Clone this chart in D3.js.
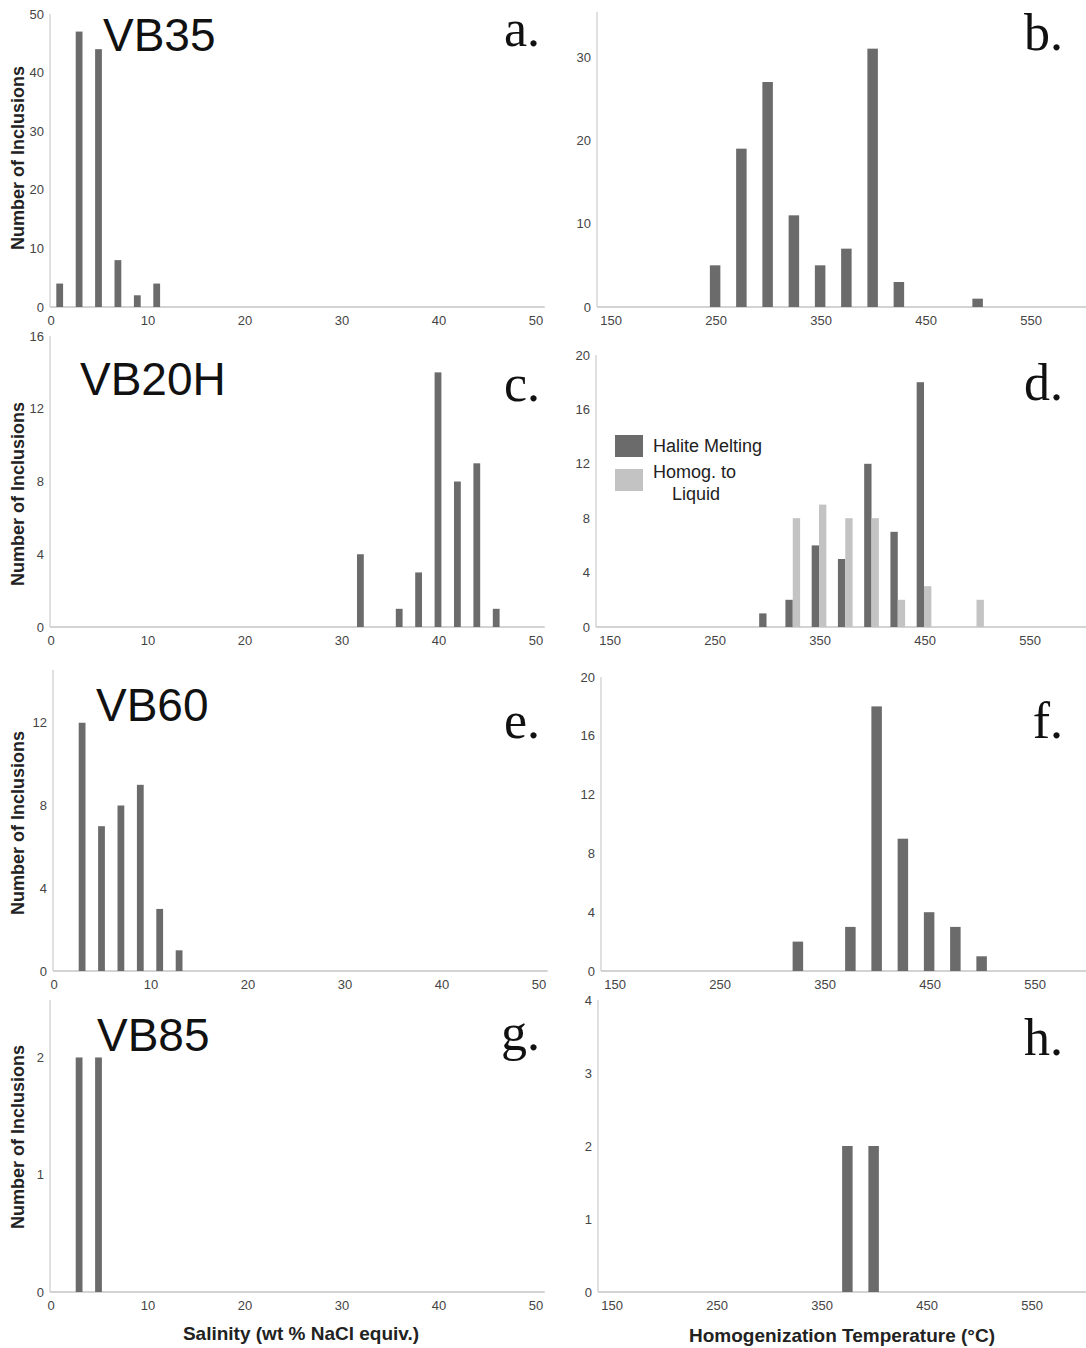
<!DOCTYPE html>
<html>
<head>
<meta charset="utf-8">
<script src="https://cdn.jsdelivr.net/npm/d3@7"></script>
<style>
  body { margin: 0; background: #fff; }
  svg { display: block; font-family: "Liberation Sans", Arial, sans-serif; }
</style>
</head>
<body>
<main></main>
<script>
// salinity histograms: bin centre (wt % NaCl equiv.) and count
var vb35Sal = [1, 3, 5, 7, 9, 11];
var vb35SalN = [4, 47, 44, 8, 2, 4];
var vb20hSal = [32, 36, 38, 40, 42, 44, 46];
var vb20hSalN = [4, 1, 3, 14, 8, 9, 1];
var vb60Sal = [3, 5, 7, 9, 11, 13];
var vb60SalN = [12, 7, 8, 9, 3, 1];
var vb85Sal = [3, 5];
var vb85SalN = [2, 2];

// homogenization temperature histograms: bin centre (°C) and count
var vb35Th = [250, 275, 300, 325, 350, 375, 400, 425, 500];
var vb35ThN = [5, 19, 27, 11, 5, 7, 31, 3, 1];
var vb20hHalite = [300, 325, 350, 375, 400, 425, 450];
var vb20hHaliteN = [1, 2, 6, 5, 12, 7, 18];
var vb20hLiquid = [325, 350, 375, 400, 425, 450, 500];
var vb20hLiquidN = [8, 9, 8, 8, 2, 3, 2];
var vb60Th = [325, 375, 400, 425, 450, 475, 500];
var vb60ThN = [2, 3, 18, 9, 4, 3, 1];
var vb85Th = [375, 400];
var vb85ThN = [2, 2];

// tick labels
var salTicks = [0, 10, 20, 30, 40, 50];
var thTicks = [150, 250, 350, 450, 550];
var ticksA = [0, 10, 20, 30, 40, 50];
var ticksB = [0, 10, 20, 30];
var ticksC = [0, 4, 8, 12, 16];
var ticksD = [0, 4, 8, 12, 16, 20];
var ticksE = [0, 4, 8, 12];
var ticksF = [0, 4, 8, 12, 16, 20];
var ticksG = [0, 1, 2];
var ticksH = [0, 1, 2, 3, 4];

var DARK = '#6b6b6b', LIGHT = '#c3c3c3';

var svg = d3.select('main').append('svg')
  .attr('width', 1086)
  .attr('height', 1348);

svg.append('rect').attr('width', 1086).attr('height', 1348).attr('fill', '#fff');

function zip(xs, ys) { return xs.map(function(x, i) { return { x: x, n: ys[i] }; }); }

// layout of the eight panels
var panels = [
  { kind: 'sal', left: 50, base: 307, top: 14, yMax: 50, ticks: ticksA, series: [{ d: zip(vb35Sal, vb35SalN), c: DARK, off: 0, w: 0.7 }],
    name: 'VB35', nameX: 103, nameY: 51, letter: 'a.', letterY: 46, titleY: 158 },
  { kind: 'th', left: 597, base: 307, top: 12, yMax: 35.4, ticks: ticksB, series: [{ d: zip(vb35Th, vb35ThN), c: DARK, off: 0, w: 10 }],
    letter: 'b.', letterY: 50 },
  { kind: 'sal', left: 50, base: 627, top: 336, yMax: 16, ticks: ticksC, series: [{ d: zip(vb20hSal, vb20hSalN), c: DARK, off: 0, w: 0.7 }],
    name: 'VB20H', nameX: 80, nameY: 395, letter: 'c.', letterY: 401, titleY: 494 },
  { kind: 'th', left: 596, base: 627, top: 355, yMax: 20, ticks: ticksD,
    series: [{ d: zip(vb20hHalite, vb20hHaliteN), c: DARK, off: -3.6, w: 7 },
             { d: zip(vb20hLiquid, vb20hLiquidN), c: LIGHT, off: 3.4, w: 7 }],
    letter: 'd.', letterY: 400, legend: true },
  { kind: 'sal', left: 53, base: 971, top: 670, yMax: 14.55, ticks: ticksE, series: [{ d: zip(vb60Sal, vb60SalN), c: DARK, off: 0, w: 0.7 }],
    name: 'VB60', nameX: 96, nameY: 721, letter: 'e.', letterY: 738, titleY: 823 },
  { kind: 'th', left: 601, base: 971, top: 677, yMax: 20, ticks: ticksF, series: [{ d: zip(vb60Th, vb60ThN), c: DARK, off: 0, w: 10 }],
    letter: 'f.', letterY: 738 },
  { kind: 'sal', left: 50, base: 1292, top: 1000, yMax: 2.49, ticks: ticksG, series: [{ d: zip(vb85Sal, vb85SalN), c: DARK, off: 0, w: 0.7 }],
    name: 'VB85', nameX: 97, nameY: 1051, letter: 'g.', letterY: 1050, titleY: 1137 },
  { kind: 'th', left: 598, base: 1292, top: 1000, yMax: 4, ticks: ticksH, series: [{ d: zip(vb85Th, vb85ThN), c: DARK, off: 0, w: 10 }],
    letter: 'h.', letterY: 1055 }
];

panels.forEach(function(p) {
  var g = svg.append('g');
  var x, xTicks, xEnd;
  if (p.kind === 'sal') {
    x = d3.scaleLinear().domain([0, 50]).range([p.left, p.left + 485]);
    xTicks = salTicks;
    xEnd = x(51);
  } else {
    x = d3.scaleLinear().domain([137.5, 612.5]).range([p.left, p.left + 475 * 1.05]);
    xTicks = thTicks;
    xEnd = 1086;
  }
  var y = d3.scaleLinear().domain([0, p.yMax]).range([p.base, p.top]);

  // axes lines
  g.append('line').attr('x1', p.left).attr('x2', p.left).attr('y1', p.top).attr('y2', p.base)
    .attr('stroke', '#d6d6d6').attr('stroke-width', 1.5);
  g.append('line').attr('x1', p.left).attr('x2', xEnd).attr('y1', p.base).attr('y2', p.base)
    .attr('stroke', '#c4c4c4').attr('stroke-width', 1.5);

  // bars
  p.series.forEach(function(s) {
    var bw = x(s.w) - x(0);
    g.selectAll(null).data(s.d).enter().append('rect')
      .attr('x', function(d) { return x(d.x + s.off) - bw / 2; })
      .attr('y', function(d) { return y(d.n); })
      .attr('width', bw)
      .attr('height', function(d) { return y(0) - y(d.n); })
      .attr('fill', s.c);
  });

  // tick labels
  g.selectAll(null).data(p.ticks).enter().append('text')
    .attr('x', p.left - 6).attr('y', function(d) { return y(d); })
    .attr('dy', '0.35em').attr('text-anchor', 'end')
    .attr('font-size', 13).attr('fill', '#444')
    .text(function(d) { return d; });
  g.selectAll(null).data(xTicks).enter().append('text')
    .attr('x', function(d) { return x(d) + 1; }).attr('y', p.base + 13)
    .attr('dy', '0.35em').attr('text-anchor', 'middle')
    .attr('font-size', 13).attr('fill', '#444')
    .text(function(d) { return d; });

  // sample name, y title
  if (p.name) {
    g.append('text').attr('x', p.nameX).attr('y', p.nameY)
      .attr('font-size', 46).attr('fill', '#111').text(p.name);
    g.append('text').attr('x', 18).attr('y', p.titleY)
      .attr('transform', 'rotate(-90,18,' + p.titleY + ')')
      .attr('text-anchor', 'middle').attr('dominant-baseline', 'central')
      .attr('font-size', 18).attr('font-weight', 'bold').attr('fill', '#222')
      .text('Number of Inclusions');
  }
  // panel letter (serif)
  g.append('text').attr('x', p.kind === 'sal' ? 540 : 1063).attr('y', p.letterY)
    .attr('text-anchor', 'end').attr('font-size', 52)
    .style('font-family', '"Liberation Serif", "Times New Roman", serif')
    .attr('fill', '#111').text(p.letter);

  // legend
  if (p.legend) {
    var lg = g.append('g');
    lg.append('rect').attr('x', 615).attr('y', 435).attr('width', 28).attr('height', 22).attr('fill', DARK);
    lg.append('rect').attr('x', 615).attr('y', 469).attr('width', 28).attr('height', 22).attr('fill', LIGHT);
    lg.append('text').attr('x', 653).attr('y', 452).attr('font-size', 18).attr('fill', '#222').text('Halite Melting');
    lg.append('text').attr('x', 653).attr('y', 478).attr('font-size', 18).attr('fill', '#222').text('Homog. to');
    lg.append('text').attr('x', 672).attr('y', 500).attr('font-size', 18).attr('fill', '#222').text('Liquid');
  }
});

// x axis titles
svg.append('text').attr('x', 301).attr('y', 1340).attr('text-anchor', 'middle')
  .attr('font-size', 19).attr('font-weight', 'bold').attr('fill', '#222')
  .text('Salinity (wt % NaCl equiv.)');
svg.append('text').attr('x', 842).attr('y', 1342).attr('text-anchor', 'middle')
  .attr('font-size', 19).attr('font-weight', 'bold').attr('fill', '#222')
  .text('Homogenization Temperature (°C)');
</script>
</body>
</html>
